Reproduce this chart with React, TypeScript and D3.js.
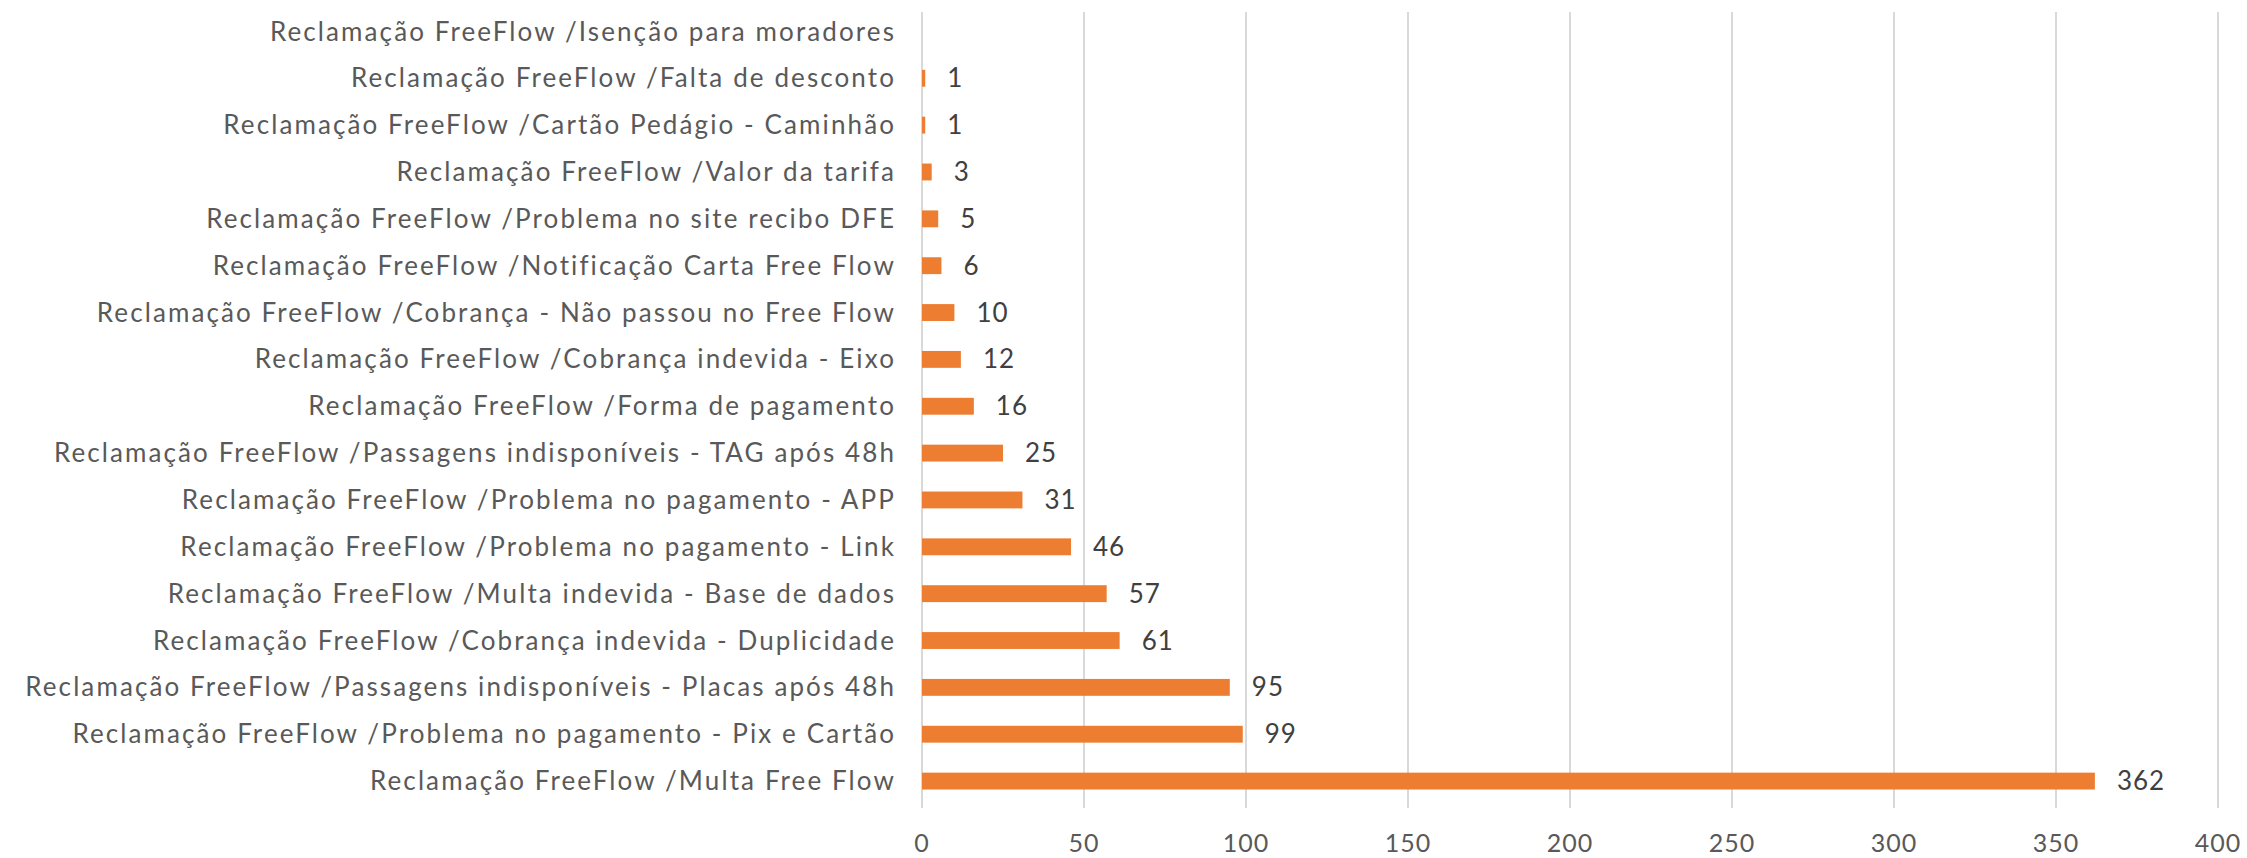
import { useEffect, useRef } from "react";
import * as d3 from "d3";

const prefix = "Reclamação FreeFlow /";

const categories = [
  "Isenção para moradores",
  "Falta de desconto",
  "Cartão Pedágio - Caminhão",
  "Valor da tarifa",
  "Problema no site recibo DFE",
  "Notificação Carta Free Flow",
  "Cobrança - Não passou no Free Flow",
  "Cobrança indevida - Eixo",
  "Forma de pagamento",
  "Passagens indisponíveis - TAG após 48h",
  "Problema no pagamento - APP",
  "Problema no pagamento - Link",
  "Multa indevida - Base de dados",
  "Cobrança indevida - Duplicidade",
  "Passagens indisponíveis - Placas após 48h",
  "Problema no pagamento - Pix e Cartão",
  "Multa Free Flow",
];

const values = [0, 1, 1, 3, 5, 6, 10, 12, 16, 25, 31, 46, 57, 61, 95, 99, 362];

const xTicks = [0, 50, 100, 150, 200, 250, 300, 350, 400];

const width = 2247;
const height = 858;

const App = () => {
  const ref = useRef<SVGSVGElement>(null);

  useEffect(() => {
    if (!ref.current) return;
    const svg = d3.select(ref.current);
    svg.selectAll("*").remove();

    const font = "Lato, 'Open Sans', sans-serif";

    const x = d3.scaleLinear().domain([0, 400]).range([922, 2218]);
    const y = d3
      .scaleBand<string>()
      .domain(categories)
      .range([8, 804.5])
      .paddingInner(0.64)
      .paddingOuter(0.32);

    // gridlines
    svg
      .append("g")
      .selectAll("line")
      .data(xTicks)
      .enter()
      .append("line")
      .attr("x1", (d) => x(d))
      .attr("x2", (d) => x(d))
      .attr("y1", 12)
      .attr("y2", 808)
      .attr("stroke", "#d9d9d9")
      .attr("stroke-width", 2);

    // tick labels
    svg
      .append("g")
      .selectAll("text")
      .data(xTicks)
      .enter()
      .append("text")
      .attr("x", (d) => x(d))
      .attr("y", 843)
      .attr("dy", "0.35em")
      .attr("text-anchor", "middle")
      .style("font-family", font)
      .style("font-size", "25px")
      .style("letter-spacing", "1px")
      .style("fill", "#595959")
      .text((d) => d);

    // bars
    svg
      .append("g")
      .selectAll("rect")
      .data(values)
      .enter()
      .append("rect")
      .attr("x", x(0))
      .attr("y", (d, i) => y(categories[i]) as number)
      .attr("width", (d) => x(d) - x(0))
      .attr("height", y.bandwidth())
      .attr("fill", "#ed7d31");

    // value labels
    svg
      .append("g")
      .selectAll("text")
      .data(values)
      .enter()
      .append("text")
      .attr("x", (d) => x(d) + 22)
      .attr("y", (d, i) => (y(categories[i]) as number) + y.bandwidth() / 2)
      .attr("dy", "0.35em")
      .style("font-family", font)
      .style("font-size", "26px")
      .style("letter-spacing", "1px")
      .style("fill", "#404040")
      .text((d) => (d > 0 ? d : ""));

    // category labels
    svg
      .append("g")
      .selectAll("text")
      .data(categories)
      .enter()
      .append("text")
      .attr("x", x(0) - 26)
      .attr("y", (d) => (y(d) as number) + y.bandwidth() / 2)
      .attr("dy", "0.35em")
      .attr("text-anchor", "end")
      .style("font-family", font)
      .style("font-size", "26px")
      .style("letter-spacing", "2.1px")
      .style("fill", "#595959")
      .text((d) => prefix + d);
  }, []);

  return (
    <svg
      ref={ref}
      width={width}
      height={height}
      style={{ position: "absolute", left: 0, top: 0, background: "#fff" }}
    />
  );
};

export default App;
